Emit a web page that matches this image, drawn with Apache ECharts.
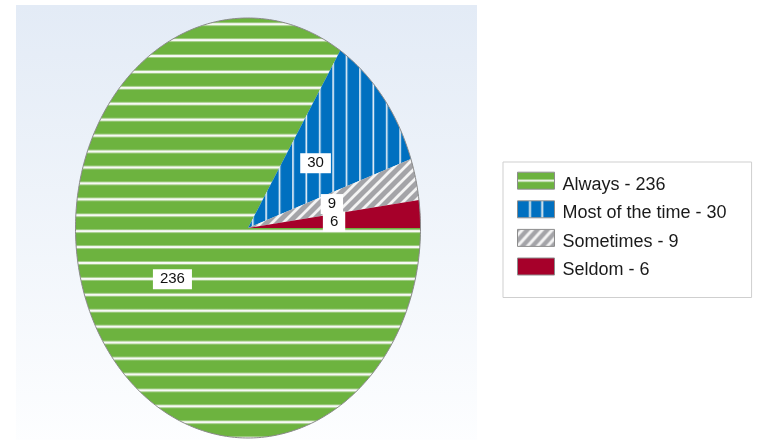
<!DOCTYPE html>
<html><head><meta charset="utf-8">
<script src="https://cdn.jsdelivr.net/npm/echarts@6/dist/echarts.min.js"></script>
<style>html,body{margin:0;padding:0;background:#fff}#chart{width:757px;height:440px}</style>
</head><body><div id="chart"></div>
<script>
// ---- data ----
const categories = ['Always', 'Most of the time', 'Sometimes', 'Seldom'];
const values = [236, 30, 9, 6];
const colors = ['#6db33f', '#0070c0', '#a4a4a8', '#a6002a'];

// ---- geometry / styling ----
const CX = 248, CY = 228, RX = 172.5, RY = 210;
const FONT = '"Liberation Sans", Arial, sans-serif';

function cv(w, h) { const c = document.createElement('canvas'); c.width = w; c.height = h; return c; }

function piePattern(i) {
  let c, ctx;
  if (i === 0) {
    c = cv(8, 16); ctx = c.getContext('2d');
    ctx.fillStyle = colors[0]; ctx.fillRect(0, 0, 8, 16);
    ctx.fillStyle = '#d6e6cb'; ctx.fillRect(0, 6.5, 8, 3);
    ctx.fillStyle = '#f7f9f5'; ctx.fillRect(0, 7, 8, 2);
    return { image: c, repeat: 'repeat', x: 0.3, y: 0.3, scaleY: 15.92 / 16 };
  }
  if (i === 1) {
    c = cv(67, 8); ctx = c.getContext('2d');
    ctx.fillStyle = colors[1]; ctx.fillRect(0, 0, 67, 8);
    ctx.fillStyle = '#eef4fa';
    for (let k = 0; k < 5; k++) ctx.fillRect(13.4 * k, 0, 1.6, 8);
    return { image: c, repeat: 'repeat', x: 24.2, y: 0 };
  }
  if (i === 2) {
    const S = 11;
    c = cv(S, S); ctx = c.getContext('2d');
    ctx.fillStyle = colors[2]; ctx.fillRect(0, 0, S, S);
    ctx.strokeStyle = '#f4f4f4'; ctx.lineWidth = 2.8;
    ctx.beginPath();
    ctx.moveTo(-1, S + 1); ctx.lineTo(S + 1, -1);
    ctx.moveTo(-2, 2); ctx.lineTo(2, -2);
    ctx.moveTo(S - 2, S + 2); ctx.lineTo(S + 2, S - 2);
    ctx.stroke();
    return { image: c, repeat: 'repeat' };
  }
  return colors[3];
}

function legendPattern(i) {
  const W = 37, H = 17;
  const c = cv(W, H), ctx = c.getContext('2d');
  ctx.fillStyle = colors[i]; ctx.fillRect(0, 0, W, H);
  ctx.fillStyle = '#f7f9f5';
  if (i === 0) ctx.fillRect(0, 7.5, W, 2);
  if (i === 1) { ctx.fillRect(11.6, 0, 1.8, H); ctx.fillRect(23.8, 0, 1.8, H); }
  if (i === 2) {
    ctx.strokeStyle = '#f4f4f4'; ctx.lineWidth = 3;
    ctx.beginPath();
    for (let k = -2; k < 5; k++) { ctx.moveTo(k * 10 - 2, H + 2); ctx.lineTo(k * 10 + 17, -2); }
    ctx.stroke();
  }
  if (i === 3) return colors[3];
  return { image: c, repeat: 'no-repeat' };
}

const total = values.reduce((a, b) => a + b, 0);

function renderItem(params, api) {
  const i = params.seriesIndex;
  let before = 0;
  for (let k = 0; k < i; k++) before += values[k];
  const v = api.value(0);
  const a0 = before / total * Math.PI * 2;
  const a1 = (before + v) / total * Math.PI * 2;
  const n = Math.max(6, Math.ceil((a1 - a0) / (Math.PI * 2) * 400));
  const arc = [];
  for (let j = 0; j <= n; j++) {
    const a = a0 + (a1 - a0) * j / n;
    arc.push([CX + RX * Math.cos(a), CY + RY * Math.sin(a)]);
  }
  const mid = (a0 + a1) / 2;
  const lx = CX + 0.5 * RX * Math.cos(mid);
  const ly = CY + 0.5 * RY * Math.sin(mid) + 0.5;
  return {
    type: 'group',
    children: [
      { type: 'polygon', shape: { points: [[CX, CY]].concat(arc) },
        style: { fill: piePattern(i), stroke: null } },
      { type: 'polyline', shape: { points: arc },
        style: { stroke: '#8a8a8a', lineWidth: 1, fill: null } },
      { type: 'text', x: lx, y: ly, z2: 100,
        style: { text: String(v), fill: '#111', font: '15px ' + FONT,
          backgroundColor: '#ffffff', padding: [3, 7, 2, 7],
          align: 'center', verticalAlign: 'middle' } }
    ]
  };
}

const names = categories.map((c, i) => c + ' - ' + values[i]);

const chart = echarts.init(document.getElementById('chart'), null, { renderer: 'canvas' });
chart.setOption({
  backgroundColor: '#ffffff',
  animation: false,
  graphic: [{
    type: 'rect', z: -10, silent: true,
    shape: { x: 16, y: 5, width: 461, height: 440 },
    style: { fill: new echarts.graphic.LinearGradient(0, 0, 0, 1, [
      { offset: 0, color: '#e3ebf6' }, { offset: 1, color: '#fdfeff' }]) }
  }],
  legend: {
    orient: 'vertical',
    left: 503, top: 162,
    icon: 'rect',
    itemWidth: 37, itemHeight: 17, itemGap: 2.6,
    padding: [5.7, 25, 18, 14],
    backgroundColor: '#ffffff', borderColor: '#cfcfcf', borderWidth: 1,
    selectedMode: false,
    formatter: '{t|{name}}',
    textStyle: {
      fontFamily: FONT, fontSize: 18, color: '#1a1a1a',
      rich: { t: { fontFamily: FONT, fontSize: 18, color: '#1a1a1a', lineHeight: 17, padding: [8, 0, 0, 3] } }
    },
    data: names.map((n, i) => ({ name: n, itemStyle: { color: legendPattern(i), borderColor: '#8c8c8c', borderWidth: 1 } }))
  },
  series: categories.map((c, i) => ({
    type: 'custom',
    name: names[i],
    coordinateSystem: 'none',
    itemStyle: { color: colors[i] },
    data: [[values[i]]],
    renderItem: renderItem
  }))
});
</script>
</body></html>
